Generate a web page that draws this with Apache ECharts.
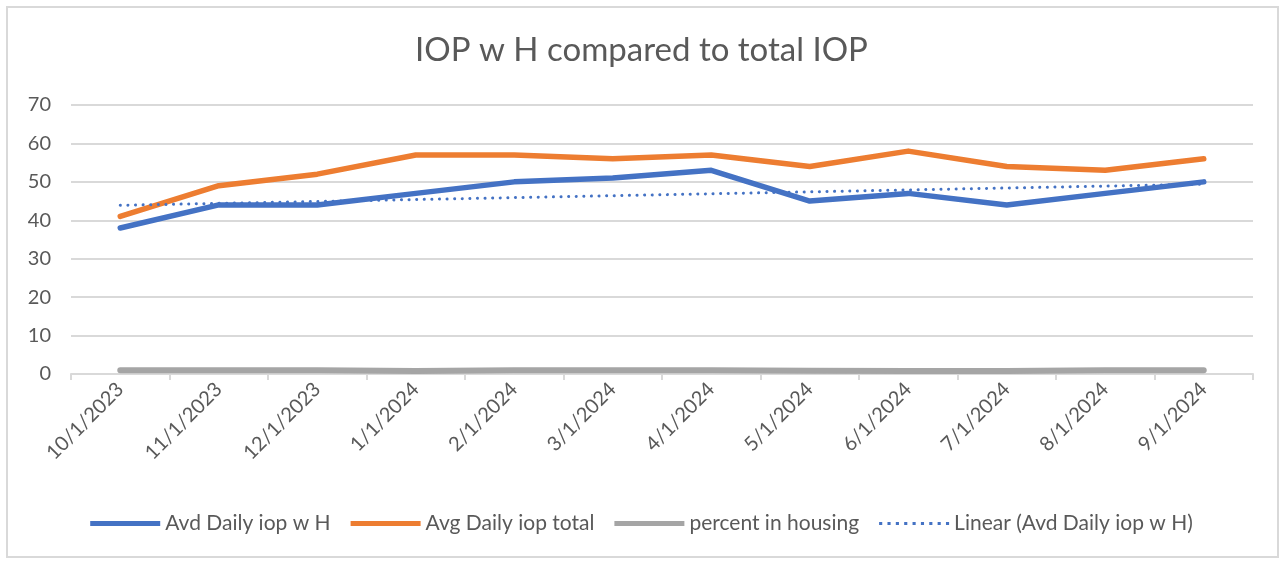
<!DOCTYPE html>
<html>
<head>
<meta charset="utf-8">
<script src="https://cdn.jsdelivr.net/npm/echarts@6/dist/echarts.min.js"></script>
<style>
html,body{margin:0;padding:0;background:#fff;}
#wrap{position:absolute;left:6px;top:6px;width:1273px;height:552px;border:2px solid #d9d9d9;box-sizing:border-box;}
#chart{position:absolute;left:0;top:0;width:1283px;height:561px;}
</style>
</head>
<body>
<div id="wrap"></div>
<div id="chart"></div>
<script>
const categories = ["10/1/2023","11/1/2023","12/1/2023","1/1/2024","2/1/2024","3/1/2024","4/1/2024","5/1/2024","6/1/2024","7/1/2024","8/1/2024","9/1/2024"];
const avdDailyIopWH = [38,44,44,47,50,51,53,45,47,44,47,50];
const avgDailyIopTotal = [41,49,52,57,57,56,57,54,58,54,53,56];
const percentInHousing = [1.0,1.0,0.95,0.8,0.95,1.0,1.0,0.85,0.8,0.8,0.95,1.0];
const linearTrend = [43.9,44.4,44.9,45.4,45.9,46.4,46.9,47.4,47.9,48.4,48.9,49.4];
const yTicks = [0,10,20,30,40,50,60,70];

const font = "Lato, 'Open Sans', 'Liberation Sans', sans-serif";
const chart = echarts.init(document.getElementById('chart'));
chart.setOption({
  animation:false,
  title:{text:"IOP w H compared to total IOP",left:'center',top:29,
    textStyle:{fontFamily:font,fontSize:33,fontWeight:'normal',color:'#595959'}},
  grid:{left:71,right:30,top:105,bottom:187,containLabel:false},
  legend:{bottom:22,left:'center',itemWidth:70,itemHeight:5,itemGap:20,
    textStyle:{fontFamily:font,fontSize:21,color:'#595959'},
    data:[
      {name:'Avd Daily iop w H',icon:'rect'},
      {name:'Avg Daily iop total',icon:'rect'},
      {name:'percent in housing',icon:'rect'},
      {name:'Linear (Avd Daily iop w H)',icon:'path://M0,0h3v3h-3zM8,0h3v3h-3zM16,0h3v3h-3zM24,0h3v3h-3zM32,0h3v3h-3zM40,0h3v3h-3zM48,0h3v3h-3zM56,0h3v3h-3zM64,0h3v3h-3z'}
    ]},
  xAxis:{type:'category',data:categories,boundaryGap:true,
    axisLine:{lineStyle:{color:'#d9d9d9',width:2}},
    axisTick:{show:true,length:6,lineStyle:{color:'#d9d9d9',width:2}},
    axisLabel:{rotate:45,fontFamily:font,fontSize:20,color:'#595959',margin:12}},
  yAxis:{type:'value',min:0,max:70,interval:10,
    axisLine:{show:false},axisTick:{show:false},
    splitLine:{lineStyle:{color:'#d9d9d9',width:2}},
    axisLabel:{fontFamily:font,fontSize:20,color:'#595959',margin:20,
      formatter:v=>yTicks.includes(v)?String(v):''}},
  series:[
    {name:'Avd Daily iop w H',type:'line',data:avdDailyIopWH,symbol:'none',z:3,
      lineStyle:{color:'#4472c4',width:5.5,cap:'round',join:'round'},itemStyle:{color:'#4472c4'}},
    {name:'Avg Daily iop total',type:'line',data:avgDailyIopTotal,symbol:'none',z:3,
      lineStyle:{color:'#ed7d31',width:5.5,cap:'round',join:'round'},itemStyle:{color:'#ed7d31'}},
    {name:'percent in housing',type:'line',data:percentInHousing,symbol:'none',z:3,
      lineStyle:{color:'#a5a5a5',width:6,cap:'round',join:'round'},itemStyle:{color:'#a5a5a5'}},
    {name:'Linear (Avd Daily iop w H)',type:'line',data:linearTrend,symbol:'none',z:4,
      lineStyle:{color:'#4472c4',width:3,type:[0.1,7.5],cap:'round'},itemStyle:{color:'#4472c4'}}
  ]
});
</script>
</body>
</html>
